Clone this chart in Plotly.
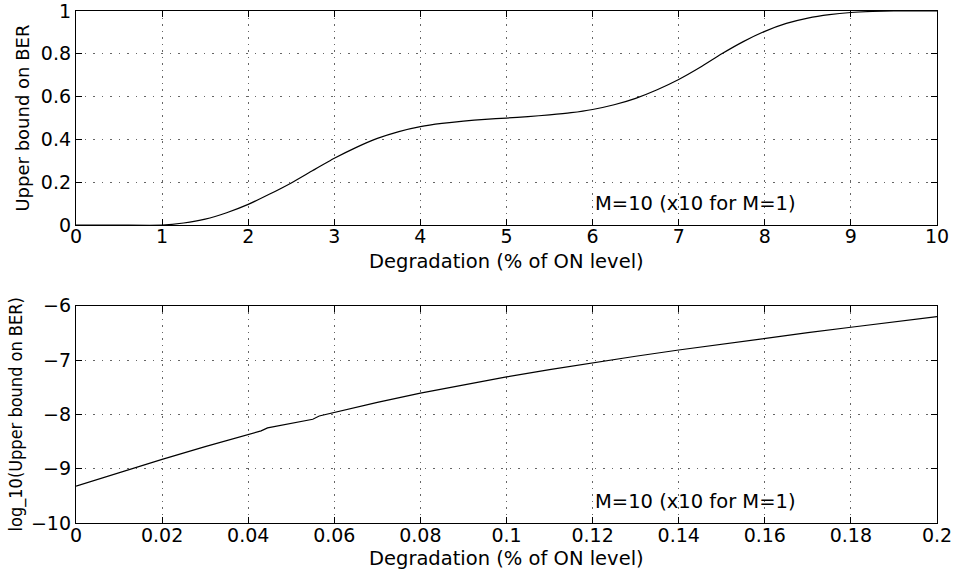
import plotly.graph_objects as go

# Upper panel: BER upper bound vs degradation (linear scale)
deg_lin = [0.0, 0.5, 1.0, 1.25, 1.5, 1.75, 2.0, 2.25, 2.5, 2.75, 3.0, 3.25, 3.5,
           3.75, 4.0, 4.25, 4.5, 4.75, 5.0, 5.25, 5.5, 5.75, 6.0, 6.25, 6.5, 6.75,
           7.0, 7.25, 7.5, 7.75, 8.0, 8.25, 8.5, 8.75, 9.0, 9.25, 9.5, 10.0]
ber_lin = [0.0, 0.0, 0.0, 0.01, 0.028, 0.058, 0.097, 0.145, 0.197, 0.255, 0.312,
           0.362, 0.405, 0.437, 0.460, 0.475, 0.486, 0.494, 0.500, 0.507, 0.515,
           0.525, 0.540, 0.562, 0.592, 0.632, 0.680, 0.737, 0.800, 0.857, 0.905,
           0.942, 0.967, 0.983, 0.993, 0.998, 1.0, 1.0]

# Lower panel: log10 of the bound vs small degradations
deg_log = [0.0, 0.01, 0.02, 0.03, 0.04, 0.043, 0.0445, 0.05, 0.055, 0.0565,
           0.06, 0.07, 0.08, 0.09, 0.10, 0.11, 0.12, 0.13, 0.14, 0.15, 0.16,
           0.17, 0.18, 0.19, 0.20]
ber_log = [-9.32, -9.07, -8.83, -8.595, -8.37, -8.305, -8.25, -8.165, -8.09, -8.03,
           -7.965, -7.78, -7.61, -7.455, -7.31, -7.175, -7.05, -6.93, -6.815, -6.705,
           -6.60, -6.497, -6.397, -6.298, -6.20]

top_xticks = [0, 1, 2, 3, 4, 5, 6, 7, 8, 9, 10]
top_yticks = [0, 0.2, 0.4, 0.6, 0.8, 1]
bot_xticks = [0, 0.02, 0.04, 0.06, 0.08, 0.1, 0.12, 0.14, 0.16, 0.18, 0.2]
bot_xtext = ["0", "0.02", "0.04", "0.06", "0.08", "0.1", "0.12", "0.14", "0.16", "0.18", "0.2"]
bot_yticks = [-10, -9, -8, -7, -6]

note = "M=10 (x10 for M=1)"
x_title = "Degradation (% of ON level)"

FONT = "DejaVu Sans"
tick_font = dict(family=FONT, size=19, color="black")

fig = go.Figure()
fig.add_trace(go.Scatter(x=deg_lin, y=ber_lin, mode="lines",
                         line=dict(color="black", width=1.2, shape="spline", smoothing=0.5),
                         xaxis="x", yaxis="y", showlegend=False))
fig.add_trace(go.Scatter(x=deg_log, y=ber_log, mode="lines",
                         line=dict(color="black", width=1.2),
                         xaxis="x2", yaxis="y2", showlegend=False))

common = dict(showline=True, linecolor="black", linewidth=1.3, mirror="ticks",
              ticks="inside", ticklen=6, tickcolor="black", tickwidth=1.3,
              showgrid=True, gridcolor="#666666", gridwidth=1, zeroline=False,
              tickfont=tick_font, automargin=False, ticklabeloverflow="allow")

fig.update_layout(
    width=954, height=575,
    margin=dict(l=76, r=17, t=11, b=52),
    paper_bgcolor="white", plot_bgcolor="white",
    xaxis=dict(common, domain=[0, 1], range=[0, 10], tickvals=top_xticks,
               griddash="1.5px,5px", anchor="y", ticklabelstandoff=-6),
    yaxis=dict(common, domain=[0.5818, 1], range=[0, 1], tickvals=top_yticks,
               griddash="1.5px,7px", anchor="x",
               title=dict(text="Upper bound on BER", font=dict(family=FONT, size=18, color="black"), standoff=6)),
    xaxis2=dict(common, domain=[0, 1], range=[0, 0.2], tickvals=bot_xticks, ticktext=bot_xtext,
                griddash="1.5px,5px", anchor="y2", ticklabelstandoff=-5),
    yaxis2=dict(common, domain=[0, 0.4244], range=[-10, -6], tickvals=bot_yticks,
                griddash="1.5px,7px", anchor="x2",
                title=dict(text="log_10(Upper bound on BER)",
                           font=dict(family="DejaVu Sans Condensed, Liberation Sans Narrow, DejaVu Sans",
                                     size=18, color="black"), standoff=3)),
    annotations=[
        # x-axis titles, one under each panel
        dict(x=0.5, y=0.5117, xref="paper", yref="paper", text=x_title, showarrow=False,
             xanchor="center", yanchor="middle", font=dict(family=FONT, size=19.5, color="black")),
        dict(x=0.5, y=-0.0703, xref="paper", yref="paper", text=x_title, showarrow=False,
             xanchor="center", yanchor="middle", font=dict(family=FONT, size=19.5, color="black")),
        # in-panel notes
        dict(x=6, y=0.1, xref="x", yref="y", text=note, showarrow=False,
             xanchor="left", yanchor="middle", font=dict(family=FONT, size=19.5, color="black")),
        dict(x=0.12, y=-9.6, xref="x2", yref="y2", text=note, showarrow=False,
             xanchor="left", yanchor="middle", font=dict(family=FONT, size=19.5, color="black")),
    ],
)

fig.write_html("out.html")
